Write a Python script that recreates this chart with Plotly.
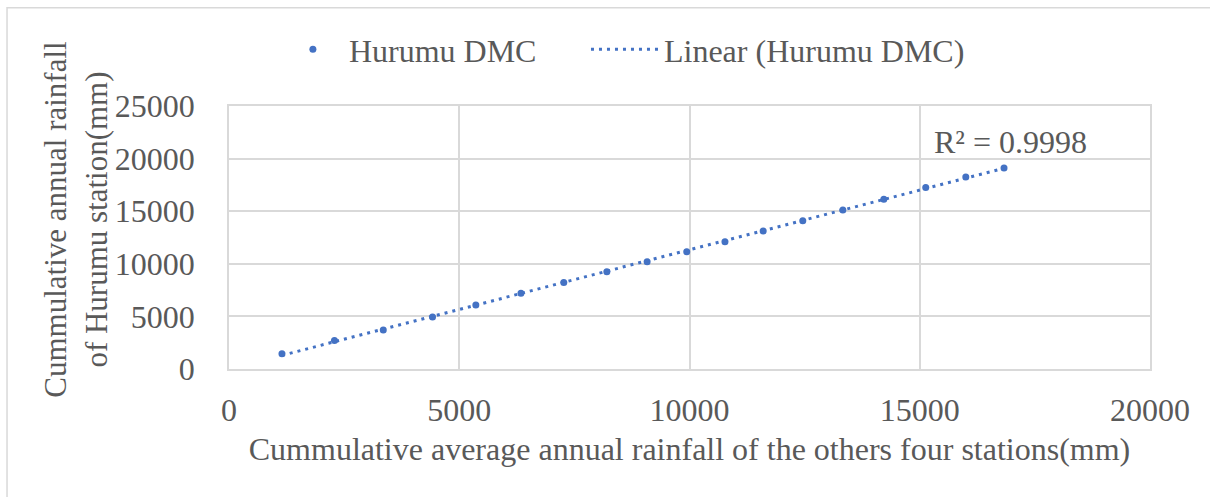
import numpy as np
import plotly.graph_objects as go

# Cumulative rainfall (mm): average of the four other stations vs. Hurumu station
others_cum = [1150, 2290, 3350, 4420, 5360, 6340, 7270, 8205, 9080, 9940,
              10770, 11600, 12460, 13330, 14220, 15130, 16000, 16830]
hurumu_cum = [1450, 2720, 3710, 4940, 6080, 7190, 8230, 9250, 10200, 11150,
              12100, 13120, 14100, 15110, 16140, 17260, 18250, 19110]

x_ticks = [0, 5000, 10000, 15000, 20000]
y_ticks = [0, 5000, 10000, 15000, 20000, 25000]
r2_label = "R² = 0.9998"
y_title = "Cummulative annual rainfall<br>of Hurumu station(mm)"
x_title = "Cummulative average annual rainfall of the others four stations(mm)"

BLUE = "#4472C4"
TEXT = "#595959"
GRID = "#d9d9d9"
FONT = "Liberation Serif"
FS = 32

x = np.array(others_cum, dtype=float)
y = np.array(hurumu_cum, dtype=float)
slope, intercept = np.polyfit(x, y, 1)
fit_x = np.array([x.min(), x.max()])
fit_y = slope * fit_x + intercept

fig = go.Figure()
fig.add_trace(go.Scatter(
    x=others_cum, y=hurumu_cum, mode="markers", name="Hurumu DMC",
    marker=dict(color=BLUE, size=7, line=dict(width=0)), legend="legend",
))
fig.add_trace(go.Scatter(
    x=fit_x, y=fit_y, mode="lines", name="Linear (Hurumu DMC)",
    line=dict(color=BLUE, width=3, dash="3px,5px"), legend="legend2",
))

fig.add_annotation(
    x=15266, y=19700, xref="x", yref="y", text=r2_label, showarrow=False,
    xanchor="left", yanchor="bottom",
    font=dict(family=FONT, size=FS, color=TEXT),
)

# vertical axis title, placed a little above the plot's mid-height
fig.add_annotation(
    x=-0.166, y=0.568, xref="paper", yref="paper", text=y_title,
    showarrow=False, textangle=-90, xanchor="center", yanchor="middle",
    font=dict(family=FONT, size=31, color=TEXT),
)

# outer chart border
fig.add_shape(type="rect", xref="paper", yref="paper",
              x0=-0.241, x1=1.2, y0=-0.6, y1=1.374,
              line=dict(color=GRID, width=1.5), layer="below")

legend_style = dict(orientation="h", yanchor="middle", y=1.215, xanchor="left",
                    font=dict(family=FONT, size=FS, color=TEXT),
                    bgcolor="rgba(0,0,0,0)")

fig.update_layout(
    width=1210, height=497,
    margin=dict(l=229, r=60, t=106, b=128, autoexpand=False),
    paper_bgcolor="white", plot_bgcolor="white",
    font=dict(family=FONT, color=TEXT, size=FS),
    showlegend=True,
    legend=dict(legend_style, x=0.052, itemwidth=62),
    legend2=dict(legend_style, x=0.3876, itemwidth=68),
)
fig.update_xaxes(
    range=[0, 20000], tickvals=x_ticks, ticktext=[str(v) for v in x_ticks],
    showgrid=True, gridcolor=GRID, gridwidth=1.5,
    showline=True, linecolor=GRID, linewidth=1.5, mirror=True,
    zeroline=False, ticks="", ticklabelstandoff=12,
    tickfont=dict(family=FONT, size=FS, color=TEXT),
    title=dict(text=x_title, font=dict(family=FONT, size=FS, color=TEXT), standoff=10),
)
fig.update_yaxes(
    range=[0, 25000], tickvals=y_ticks, ticktext=[str(v) for v in y_ticks],
    showgrid=True, gridcolor=GRID, gridwidth=1.5,
    showline=True, linecolor=GRID, linewidth=1.5, mirror=True,
    zeroline=False, ticks="", ticklabelstandoff=26,
    tickfont=dict(family=FONT, size=FS, color=TEXT),
)

fig.write_html("out.html")
